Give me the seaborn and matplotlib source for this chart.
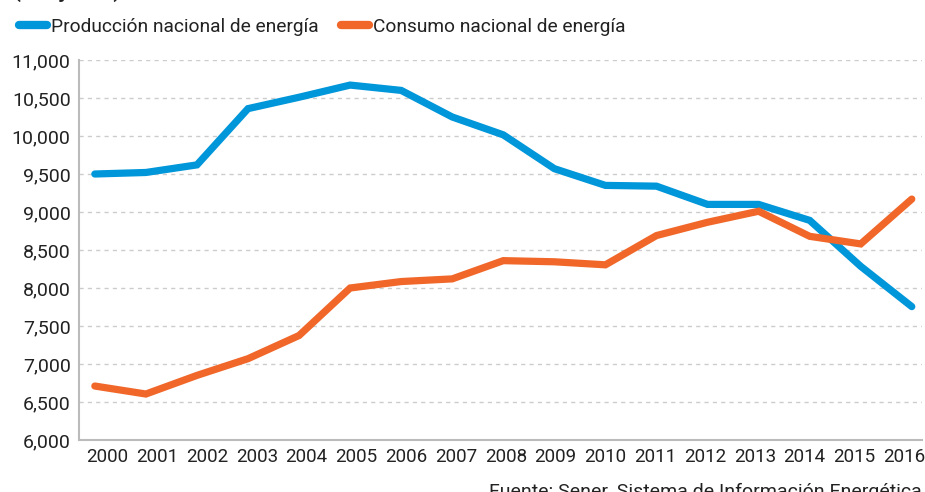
import matplotlib
matplotlib.use("Agg")
import matplotlib.pyplot as plt
import seaborn as sns
import pandas as pd
from matplotlib.ticker import FuncFormatter, MultipleLocator
from matplotlib.lines import Line2D

years = list(range(2000, 2017))
produccion = [9500, 9520, 9620, 10360, 10510, 10670, 10600, 10250, 10015, 9570,
              9350, 9340, 9100, 9100, 8890, 8285, 7755]
consumo = [6710, 6605, 6850, 7070, 7375, 8000, 8085, 8120, 8360, 8345,
           8305, 8690, 8865, 9010, 8680, 8580, 9170]
series_names = ["Producción nacional de energía", "Consumo nacional de energía"]
colors = ["#0096DA", "#F1672A"]
title = "(Petajoules)"
source = "Fuente: Sener, Sistema de Información Energética"

df = pd.DataFrame({
    "year": years * 2,
    "value": produccion + consumo,
    "serie": [series_names[0]] * len(years) + [series_names[1]] * len(years),
})

sns.set_theme(style="white")
plt.rcParams["font.family"] = ["Roboto", "DejaVu Sans"]

fig = plt.figure(figsize=(9.25, 4.92), dpi=100)
ax = fig.add_axes([79 / 925, 1 - 440 / 492, (922 - 79) / 925, (440 - 60) / 492])

sns.lineplot(data=df, x="year", y="value", hue="serie", palette=colors,
             linewidth=5.2, ax=ax, legend=False, solid_capstyle="round",
             solid_joinstyle="miter")

ax.set_xlim(1999.69, 2016.2)
ax.set_ylim(6000, 11000)
ax.yaxis.set_major_locator(MultipleLocator(500))
ax.yaxis.set_major_formatter(FuncFormatter(lambda v, p: f"{int(v):,}"))
# tick labels are spread slightly narrower than the data points in the reference
px_per_year = 51.06
label_pos = [yr + (12.5 - 1.26 * i) / px_per_year for i, yr in enumerate(years)]
ax.set_xticks(label_pos)
ax.set_xticklabels([str(y) for y in years])
ax.set_xlabel("")
ax.set_ylabel("")
ax.tick_params(axis="both", length=0, colors="#222222")
ax.tick_params(axis="x", pad=6, labelsize=13.5)
ax.tick_params(axis="y", pad=6, labelsize=14)

ax.grid(axis="y", color="#cccccc", linestyle=(0, (3, 3)), linewidth=1)
ax.grid(axis="x", visible=False)
ax.set_axisbelow(True)
for s in ["top", "right"]:
    ax.spines[s].set_visible(False)
ax.spines["left"].set_color("#bbbbbb")
ax.spines["left"].set_linewidth(1.5)
ax.spines["bottom"].set_color("#bbbbbb")
ax.spines["bottom"].set_linewidth(1.5)

handles = [Line2D([0], [0], color=c, linewidth=6, solid_capstyle="round") for c in colors]
leg = fig.legend(handles, series_names, loc="center left", bbox_to_anchor=(19 / 925, 1 - 27 / 492),
                 ncol=2, frameon=False, fontsize=13.8, handlelength=1.45, handletextpad=0.2,
                 columnspacing=1.2, borderaxespad=0, borderpad=0)
for t in leg.get_texts():
    t.set_color("#222222")

fig.text(14 / 925, 1 + 2 / 492, title, fontsize=14, fontweight="bold", color="#222222",
         ha="left", va="baseline")
fig.text(922 / 925, 1 - 497 / 492, source, fontsize=14, color="#222222", ha="right", va="baseline")

fig.savefig("out.png", dpi=100)
